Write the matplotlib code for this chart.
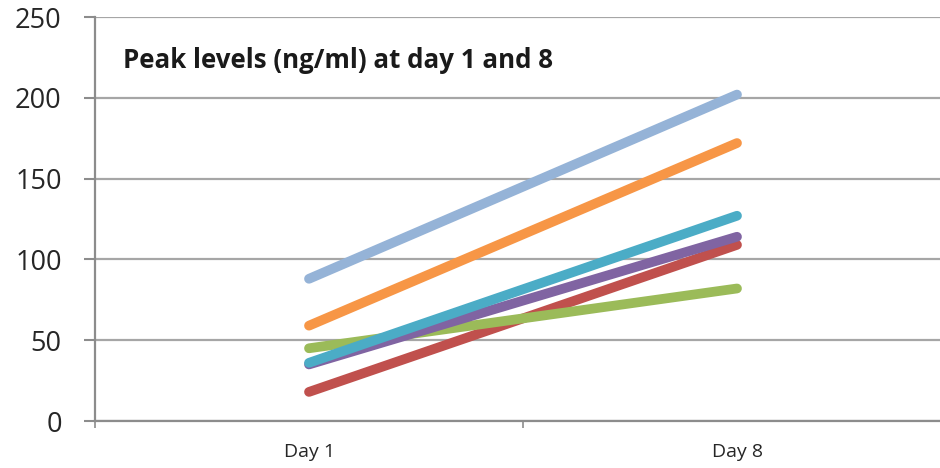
import matplotlib.pyplot as plt
from matplotlib.ticker import FixedLocator

days = ["Day 1", "Day 8"]

# peak levels (ng/ml) per subject, day 1 and day 8
red = [18, 109]
green = [45, 82]
purple = [35, 114]
teal = [36, 127]
orange = [59, 172]
light_blue = [88, 202]

series = [
    (red, "#C0504D"),
    (green, "#9BBB59"),
    (purple, "#8064A2"),
    (teal, "#4BACC6"),
    (orange, "#F79646"),
    (light_blue, "#95B3D7"),
]

plt.rcParams["font.family"] = ["Open Sans", "DejaVu Sans"]

fig = plt.figure(figsize=(9.4, 4.68), dpi=100)
ax = fig.add_axes([95 / 940, 47 / 468, 856 / 940, 404 / 468])

x = list(range(len(days)))
for values, color in series:
    ax.plot(x, values, color=color, linewidth=7, solid_capstyle="round", zorder=3)

ax.set_xlim(-0.5, 1.5)
ax.set_ylim(0, 250)
ax.set_yticks(range(0, 251, 50))
ax.grid(axis="y", color="#A6A6A6", linewidth=1.6)
ax.set_axisbelow(True)

ax.set_xticks(x)
ax.set_xticklabels(days, fontsize=14, color="#262626")
ax.tick_params(axis="x", which="major", length=0, pad=16)
ax.xaxis.set_minor_locator(FixedLocator([-0.5, 0.5, 1.5]))
ax.tick_params(axis="x", which="minor", length=5, color="#8C8C8C", width=1.2)
ax.tick_params(axis="y", length=8, color="#8C8C8C", width=1.5, labelsize=19.5,
               labelcolor="#262626", pad=16)

for side in ("top", "right"):
    ax.spines[side].set_visible(False)
for side in ("left", "bottom"):
    ax.spines[side].set_color("#8C8C8C")
    ax.spines[side].set_linewidth(1.6)

ax.text(123 / 940, 1 - 60 / 468, "Peak levels (ng/ml) at day 1 and 8", transform=fig.transFigure,
        fontsize=18.6, fontweight="bold", color="#1A1A1A", va="center", ha="left")

fig.savefig("out.png", dpi=100)
